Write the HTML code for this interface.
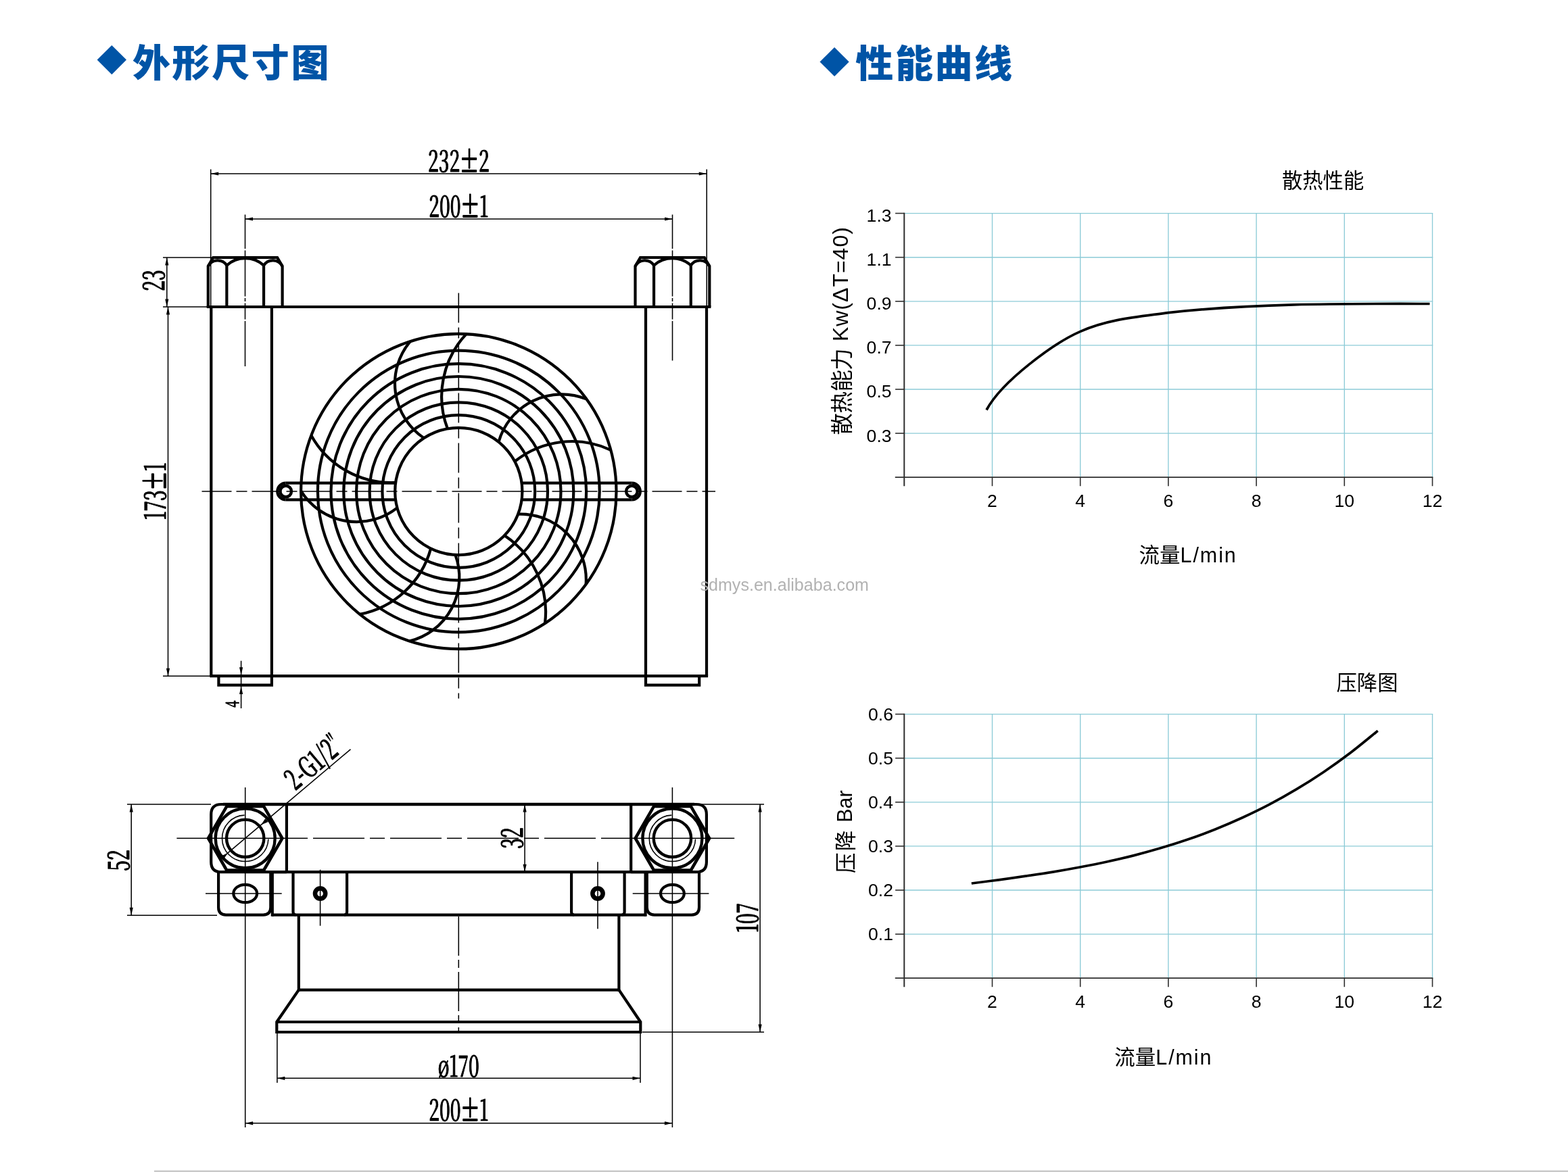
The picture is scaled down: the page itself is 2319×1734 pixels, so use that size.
<!DOCTYPE html>
<html lang="zh-CN"><head><meta charset="utf-8"><title>外形尺寸图 / 性能曲线</title>
<style>
html,body{margin:0;padding:0;background:#fff;}
body{width:2319px;height:1734px;overflow:hidden;position:relative;font-family:"Liberation Sans","Noto Sans CJK SC",sans-serif;}
svg{position:absolute;left:0;top:0;display:block;will-change:transform;}
.dim{font-family:"Noto Serif CJK SC","Liberation Serif",serif;font-weight:500;fill:#000;stroke:#000;stroke-width:1px;stroke-linejoin:round;vector-effect:non-scaling-stroke;}
.pm{stroke:#000;stroke-width:1.9px;vector-effect:non-scaling-stroke;}
.ax{font-family:"Liberation Sans","Noto Sans CJK SC",sans-serif;font-size:26.6px;fill:#000;}
.cj{font-family:"Liberation Sans","Noto Sans CJK SC",sans-serif;fill:#000;}
.ttl{font-family:"Liberation Sans","Noto Sans CJK SC",sans-serif;font-weight:900;fill:#0054a6;font-size:56px;letter-spacing:2.6px;}
.wm{font-family:"Liberation Sans","Noto Sans CJK SC",sans-serif;font-size:25px;fill:#b2b2b2;}
</style></head>
<body>
<svg width="2319" height="1734" viewBox="0 0 2319 1734">
<rect x="0" y="0" width="2319" height="1734" fill="#fff"/>
<rect x="228" y="1731.6" width="2091" height="2.4" fill="#c9c9c9"/>
<polygon points="143.6,88.6 165.3,67 187,88.6 165.3,110.2" fill="#0054a6"/>
<text class="ttl" x="196" y="112.6">外形尺寸图</text>
<polygon points="1212.5,91.5 1234.1,69.9 1255.7,91.5 1234.1,113.1" fill="#0054a6"/>
<text class="ttl" x="1265.3" y="113.5">性能曲线</text>
<g fill="none" stroke="#000" stroke-linecap="butt" stroke-linejoin="miter">
<line x1="305.7" y1="454" x2="1051.4" y2="454" stroke-width="4.2" />
<line x1="310.2" y1="1000.2" x2="1047.1" y2="1000.2" stroke-width="4.2" />
<line x1="312.3" y1="454" x2="312.3" y2="1000.2" stroke-width="4.2" />
<line x1="401.9" y1="454" x2="401.9" y2="1000.2" stroke-width="4.2" />
<line x1="955" y1="454" x2="955" y2="1000.2" stroke-width="4.2" />
<line x1="1045" y1="454" x2="1045" y2="1000.2" stroke-width="4.2" />
<path d="M323.4 1000.2 L323.4 1013.6 L401.9 1013.6 L401.9 1000.2" stroke-width="4.2" />
<path d="M955 1000.2 L955 1013.6 L1034.2 1013.6 L1034.2 1000.2" stroke-width="4.2" />
<path d="M307.8 454 L307.8 393.9 L315.3 381 L410.1 381 L417.6 393.9 L417.6 454" stroke-width="4.2" />
<line x1="335.35" y1="392.6" x2="335.35" y2="454" stroke-width="4.2" />
<line x1="390.05" y1="392.6" x2="390.05" y2="454" stroke-width="4.2" />
<path d="M307.8 393.9 A16 16 0 0 1 335.35 392.6" stroke-width="4.2" />
<path d="M335.35 392.6 A41 41 0 0 1 390.05 392.6" stroke-width="4.2" />
<path d="M390.05 392.6 A16 16 0 0 1 417.6 393.9" stroke-width="4.2" />
<path d="M939.5 454 L939.5 393.9 L947 381 L1041.8 381 L1049.3 393.9 L1049.3 454" stroke-width="4.2" />
<line x1="967.05" y1="392.6" x2="967.05" y2="454" stroke-width="4.2" />
<line x1="1021.75" y1="392.6" x2="1021.75" y2="454" stroke-width="4.2" />
<path d="M939.5 393.9 A16 16 0 0 1 967.05 392.6" stroke-width="4.2" />
<path d="M967.05 392.6 A41 41 0 0 1 1021.75 392.6" stroke-width="4.2" />
<path d="M1021.75 392.6 A16 16 0 0 1 1049.3 393.9" stroke-width="4.2" />
<circle cx="678.3" cy="727" r="94.1" stroke-width="4.2" />
<circle cx="678.3" cy="727" r="112.9" stroke-width="4.2" />
<circle cx="678.3" cy="727" r="131.7" stroke-width="4.2" />
<circle cx="678.3" cy="727" r="151.2" stroke-width="4.2" />
<circle cx="678.3" cy="727" r="170" stroke-width="4.2" />
<circle cx="678.3" cy="727" r="188.8" stroke-width="4.2" />
<circle cx="678.3" cy="727" r="208.4" stroke-width="4.2" />
<circle cx="678.3" cy="727" r="233.2" stroke-width="4.2" />
<path d="M661.89 634.34 A135.32 135.32 0 0 1 689.67 494.08" stroke-width="4.2" />
<path d="M761.35 682.76 A135.32 135.32 0 0 1 903.34 665.84" stroke-width="4.2" />
<path d="M746.04 792.32 A135.32 135.32 0 0 1 806.01 922.12" stroke-width="4.2" />
<path d="M637.11 811.61 A135.32 135.32 0 0 1 532.19 908.75" stroke-width="4.2" />
<path d="M585.11 713.97 A135.32 135.32 0 0 1 460.29 644.21" stroke-width="4.2" />
<path d="M626.99 648.12 A97.02 97.02 0 0 1 606.81 505.03" stroke-width="4.2" />
<path d="M737.47 653.83 A97.02 97.02 0 0 1 867.31 590.41" stroke-width="4.2" />
<path d="M766.17 760.66 A97.02 97.02 0 0 1 866.61 864.56" stroke-width="4.2" />
<path d="M673.44 820.97 A97.02 97.02 0 0 1 605.67 948.6" stroke-width="4.2" />
<path d="M587.42 751.42 A97.02 97.02 0 0 1 445.1 726.4" stroke-width="4.2" />
<line x1="584.2" y1="714.55" x2="422.7" y2="714.55" stroke-width="4.2" />
<line x1="584.2" y1="739.45" x2="422.7" y2="739.45" stroke-width="4.2" />
<path d="M422.7 714.55 A12.45 12.45 0 0 0 422.7 739.45" stroke-width="4.2" />
<circle cx="422.7" cy="727" r="8.3" stroke-width="4.4" />
<line x1="772.4" y1="714.55" x2="934.4" y2="714.55" stroke-width="4.2" />
<line x1="772.4" y1="739.45" x2="934.4" y2="739.45" stroke-width="4.2" />
<path d="M934.4 714.55 A12.45 12.45 0 0 1 934.4 739.45" stroke-width="4.2" />
<circle cx="934.4" cy="727" r="8.3" stroke-width="4.4" />
<line x1="678.3" y1="433.6" x2="678.3" y2="1033.5" stroke-width="1.55" stroke-dasharray="44 7 16 7"/>
<line x1="298.5" y1="727" x2="1058" y2="727" stroke-width="1.55" stroke-dasharray="44 7 16 7"/>
<line x1="362.5" y1="330" x2="362.5" y2="542" stroke-width="1.55" stroke-dasharray="38 2.5 68 2.5 5 2.5 24 2.5 70"/>
<line x1="994.5" y1="330" x2="994.5" y2="533.5" stroke-width="1.55" stroke-dasharray="38 2.5 68 2.5 5 2.5 24 2.5 70"/>
<line x1="311.7" y1="250.5" x2="311.7" y2="454" stroke-width="1.55" />
<line x1="1045.2" y1="250.5" x2="1045.2" y2="454" stroke-width="1.55" />
<line x1="311.7" y1="257" x2="1045.2" y2="257" stroke-width="1.55" />
<polygon points="311.7,257 323.2,254.4 323.2,259.6" fill="#000" stroke="none"/>
<polygon points="1045.2,257 1033.7,259.6 1033.7,254.4" fill="#000" stroke="none"/>
<line x1="362.5" y1="317.5" x2="362.5" y2="330" stroke-width="1.55" />
<line x1="994.5" y1="317.5" x2="994.5" y2="330" stroke-width="1.55" />
<line x1="362.5" y1="324" x2="994.5" y2="324" stroke-width="1.55" />
<polygon points="362.5,324 374,321.4 374,326.6" fill="#000" stroke="none"/>
<polygon points="994.5,324 983,326.6 983,321.4" fill="#000" stroke="none"/>
<line x1="241" y1="381" x2="316" y2="381" stroke-width="1.55" />
<line x1="241" y1="454" x2="306" y2="454" stroke-width="1.55" />
<line x1="241" y1="1000.2" x2="310" y2="1000.2" stroke-width="1.55" />
<line x1="246.8" y1="381" x2="246.8" y2="454" stroke-width="1.55" />
<polygon points="246.8,381 249.4,392.5 244.2,392.5" fill="#000" stroke="none"/>
<polygon points="246.8,454 244.2,442.5 249.4,442.5" fill="#000" stroke="none"/>
<line x1="248.5" y1="454" x2="248.5" y2="1000.2" stroke-width="1.55" />
<polygon points="248.5,454 251.1,465.5 245.9,465.5" fill="#000" stroke="none"/>
<polygon points="248.5,1000.2 245.9,988.7 251.1,988.7" fill="#000" stroke="none"/>
<line x1="356.6" y1="977.7" x2="356.6" y2="1048" stroke-width="1.55" />
<polygon points="356.6,998.7 354,987.2 359.2,987.2" fill="#000" stroke="none"/>
<polygon points="356.6,1015.6 359.2,1027.1 354,1027.1" fill="#000" stroke="none"/>
</g>
<text class="dim" transform="translate(678.3 254.2) rotate(0) scale(0.655 1)" font-size="42.3" text-anchor="middle">232<tspan class="pm">±</tspan>2</text>
<text class="dim" transform="translate(678.3 321.2) rotate(0) scale(0.655 1)" font-size="42.3" text-anchor="middle">200<tspan class="pm">±</tspan>1</text>
<text class="dim" transform="translate(242.6 415) rotate(-90) scale(0.655 1)" font-size="42.3" text-anchor="middle">23</text>
<text class="dim" transform="translate(245 727) rotate(-90) scale(0.655 1)" font-size="42.3" text-anchor="middle">173<tspan class="pm">±</tspan>1</text>
<text class="dim" transform="translate(353.4 1041.7) rotate(-90) scale(0.72 1)" font-size="25" text-anchor="middle">4</text>
<g fill="none" stroke="#000" stroke-linecap="butt" stroke-linejoin="miter">
<line x1="330" y1="1190" x2="1027" y2="1190" stroke-width="4.6" />
<line x1="399.5" y1="1290.2" x2="957" y2="1290.2" stroke-width="4.2" />
<line x1="402" y1="1353.6" x2="955.5" y2="1353.6" stroke-width="4.2" />
<path d="M423.9 1190 L327.2 1190 Q312.2 1190 312.2 1205 L312.2 1275.2 Q312.2 1290.2 327.2 1290.2 L423.9 1290.2" stroke-width="4.2" />
<line x1="423.9" y1="1190" x2="423.9" y2="1290.2" stroke-width="4.2" />
<path d="M417.4 1240.3 L390.05 1287.67 L335.35 1287.67 L308 1240.3 L335.35 1192.93 L390.05 1192.93 Z" stroke-width="4.6" />
<circle cx="362.7" cy="1240.3" r="44" stroke-width="4.4" />
<circle cx="362.7" cy="1240.3" r="27.7" stroke-width="4.4" />
<path d="M396.88 1241.49 A34.2 34.2 0 1 1 361.51 1206.12" stroke-width="1.55" />
<path d="M933.2 1190 L1029.9 1190 Q1044.9 1190 1044.9 1205 L1044.9 1275.2 Q1044.9 1290.2 1029.9 1290.2 L933.2 1290.2" stroke-width="4.2" />
<line x1="933.2" y1="1190" x2="933.2" y2="1290.2" stroke-width="4.2" />
<path d="M1049.1 1240.3 L1021.75 1287.67 L967.05 1287.67 L939.7 1240.3 L967.05 1192.93 L1021.75 1192.93 Z" stroke-width="4.6" />
<circle cx="994.4" cy="1240.3" r="44" stroke-width="4.4" />
<circle cx="994.4" cy="1240.3" r="27.7" stroke-width="4.4" />
<path d="M1028.58 1241.49 A34.2 34.2 0 1 1 993.21 1206.12" stroke-width="1.55" />
<path d="M323.1 1290.2 L323.1 1342.6 Q323.1 1353.6 334.1 1353.6 L389.3 1353.6 Q400.3 1353.6 400.3 1342.6 L400.3 1290.2" stroke-width="4.2" />
<ellipse cx="362.7" cy="1322.0" rx="17.4" ry="13.2" stroke-width="4.2"/>
<line x1="304" y1="1322" x2="416.7" y2="1322" stroke-width="1.55" />
<path d="M1034 1290.2 L1034 1342.6 Q1034 1353.6 1023 1353.6 L967.8 1353.6 Q956.8 1353.6 956.8 1342.6 L956.8 1290.2" stroke-width="4.2" />
<ellipse cx="994.4" cy="1322.0" rx="17.4" ry="13.2" stroke-width="4.2"/>
<line x1="935.7" y1="1322" x2="1048.4" y2="1322" stroke-width="1.55" />
<line x1="402.8" y1="1290.2" x2="402.8" y2="1355.7" stroke-width="4.2" />
<line x1="954.6" y1="1290.2" x2="954.6" y2="1355.7" stroke-width="4.2" />
<path d="M433.5 1290.2 L433.5 1349.6 Q433.5 1353.6 437.5 1353.6" stroke-width="4.2" />
<path d="M513.1 1290.2 L513.1 1349.6 Q513.1 1353.6 509.1 1353.6" stroke-width="4.2" />
<path d="M845.1 1290.2 L845.1 1349.6 Q845.1 1353.6 849.1 1353.6" stroke-width="4.2" />
<path d="M923.6 1290.2 L923.6 1349.6 Q923.6 1353.6 919.6 1353.6" stroke-width="4.2" />
<circle cx="473.6" cy="1322" r="7.6" stroke-width="6.6" />
<line x1="473.6" y1="1286.7" x2="473.6" y2="1369.7" stroke-width="1.55" />
<circle cx="884" cy="1322" r="7.6" stroke-width="6.6" />
<line x1="884" y1="1275.3" x2="884" y2="1374.3" stroke-width="1.55" />
<line x1="441.8" y1="1353.6" x2="441.8" y2="1466.7" stroke-width="4.2" />
<line x1="915.4" y1="1353.6" x2="915.4" y2="1466.7" stroke-width="4.2" />
<line x1="441.8" y1="1464.6" x2="915.4" y2="1464.6" stroke-width="4.2" />
<path d="M441.8 1464.6 L409.3 1512 L409.3 1527 L947.3 1527 L947.3 1512 L915.4 1464.6" stroke-width="4.2" />
<line x1="409.3" y1="1512" x2="947.3" y2="1512" stroke-width="4.2" />
<line x1="261.4" y1="1240.3" x2="455" y2="1240.3" stroke-width="1.55" />
<line x1="463" y1="1240.3" x2="881" y2="1240.3" stroke-width="1.55" stroke-dasharray="76 8 22 8"/>
<line x1="889" y1="1240.3" x2="1086.2" y2="1240.3" stroke-width="1.55" />
<line x1="678.3" y1="1356" x2="678.3" y2="1526" stroke-width="1.55" stroke-dasharray="58 6 12 6"/>
<line x1="362.7" y1="1165" x2="362.7" y2="1668" stroke-width="1.55" />
<line x1="994.4" y1="1165" x2="994.4" y2="1668" stroke-width="1.55" />
<line x1="326.4" y1="1270.8" x2="518.5" y2="1108.6" stroke-width="1.55" />
<polygon points="386,1220.62 392.28,1211.01 396.54,1216.05" fill="#000" stroke="none"/>
<polygon points="336.72,1262.23 330.45,1271.85 326.19,1266.81" fill="#000" stroke="none"/>
<line x1="188" y1="1190" x2="312" y2="1190" stroke-width="1.55" />
<line x1="188" y1="1354.2" x2="321" y2="1354.2" stroke-width="1.55" />
<line x1="194.2" y1="1190" x2="194.2" y2="1354.2" stroke-width="1.55" />
<polygon points="194.2,1190 196.8,1201.5 191.6,1201.5" fill="#000" stroke="none"/>
<polygon points="194.2,1354.2 191.6,1342.7 196.8,1342.7" fill="#000" stroke="none"/>
<line x1="776.1" y1="1190" x2="776.1" y2="1290.2" stroke-width="1.55" />
<polygon points="776.1,1190 778.7,1201.5 773.5,1201.5" fill="#000" stroke="none"/>
<polygon points="776.1,1290.2 773.5,1278.7 778.7,1278.7" fill="#000" stroke="none"/>
<line x1="1029" y1="1190" x2="1130" y2="1190" stroke-width="1.55" />
<line x1="950" y1="1527" x2="1130" y2="1527" stroke-width="1.55" />
<line x1="1124.1" y1="1190" x2="1124.1" y2="1527" stroke-width="1.55" />
<polygon points="1124.1,1190 1126.7,1201.5 1121.5,1201.5" fill="#000" stroke="none"/>
<polygon points="1124.1,1527 1121.5,1515.5 1126.7,1515.5" fill="#000" stroke="none"/>
<line x1="409.9" y1="1529" x2="409.9" y2="1602" stroke-width="1.55" />
<line x1="947" y1="1529" x2="947" y2="1602" stroke-width="1.55" />
<line x1="409.9" y1="1595.3" x2="947" y2="1595.3" stroke-width="1.55" />
<polygon points="409.9,1595.3 421.4,1592.7 421.4,1597.9" fill="#000" stroke="none"/>
<polygon points="947,1595.3 935.5,1597.9 935.5,1592.7" fill="#000" stroke="none"/>
<line x1="362.7" y1="1661.8" x2="994.4" y2="1661.8" stroke-width="1.55" />
<polygon points="362.7,1661.8 374.2,1659.2 374.2,1664.4" fill="#000" stroke="none"/>
<polygon points="994.4,1661.8 982.9,1664.4 982.9,1659.2" fill="#000" stroke="none"/>
</g>
<text class="dim" transform="translate(191 1273) rotate(-90) scale(0.655 1)" font-size="42.3" text-anchor="middle">52</text>
<text class="dim" transform="translate(772.5 1240) rotate(-90) scale(0.655 1)" font-size="42.3" text-anchor="middle">32</text>
<text class="dim" transform="translate(1120.5 1358) rotate(-90) scale(0.655 1)" font-size="42.3" text-anchor="middle">107</text>
<text class="dim" transform="translate(678.3 1592.6) rotate(0) scale(0.655 1)" font-size="42.3" text-anchor="middle">ø170</text>
<text class="dim" transform="translate(678.3 1658) rotate(0) scale(0.655 1)" font-size="42.3" text-anchor="middle">200<tspan class="pm">±</tspan>1</text>
<text class="dim" transform="translate(473.31 1139.57) rotate(-40.18) scale(0.66 1)" font-size="42.3" text-anchor="middle">2-G1/2<tspan font-size="34" dy="-7">″</tspan></text>
<g fill="none" stroke="#8ccbd7">
<line x1="1337.3" y1="315.6" x2="2119.2" y2="315.6" stroke-width="1.35" />
<line x1="1337.3" y1="380.7" x2="2119.2" y2="380.7" stroke-width="1.35" />
<line x1="1337.3" y1="445.8" x2="2119.2" y2="445.8" stroke-width="1.35" />
<line x1="1337.3" y1="510.9" x2="2119.2" y2="510.9" stroke-width="1.35" />
<line x1="1337.3" y1="576" x2="2119.2" y2="576" stroke-width="1.35" />
<line x1="1337.3" y1="641.1" x2="2119.2" y2="641.1" stroke-width="1.35" />
<line x1="1467.5" y1="315.6" x2="1467.5" y2="706.2" stroke-width="1.35" />
<line x1="1597.7" y1="315.6" x2="1597.7" y2="706.2" stroke-width="1.35" />
<line x1="1727.9" y1="315.6" x2="1727.9" y2="706.2" stroke-width="1.35" />
<line x1="1858.1" y1="315.6" x2="1858.1" y2="706.2" stroke-width="1.35" />
<line x1="1988.3" y1="315.6" x2="1988.3" y2="706.2" stroke-width="1.35" />
<line x1="2118.5" y1="315.6" x2="2118.5" y2="706.2" stroke-width="1.35" />
</g>
<g fill="none" stroke="#2e2e2e">
<line x1="1337.3" y1="314.8" x2="1337.3" y2="719.2" stroke-width="2.0" />
<line x1="1323.8" y1="706.2" x2="2119.3" y2="706.2" stroke-width="1.7" />
<line x1="1324.1" y1="315.6" x2="1337.3" y2="315.6" stroke-width="1.6" />
<line x1="1324.1" y1="380.7" x2="1337.3" y2="380.7" stroke-width="1.6" />
<line x1="1324.1" y1="445.8" x2="1337.3" y2="445.8" stroke-width="1.6" />
<line x1="1324.1" y1="510.9" x2="1337.3" y2="510.9" stroke-width="1.6" />
<line x1="1324.1" y1="576" x2="1337.3" y2="576" stroke-width="1.6" />
<line x1="1324.1" y1="641.1" x2="1337.3" y2="641.1" stroke-width="1.6" />
<line x1="1467.5" y1="706.2" x2="1467.5" y2="719.2" stroke-width="1.6" />
<line x1="1597.7" y1="706.2" x2="1597.7" y2="719.2" stroke-width="1.6" />
<line x1="1727.9" y1="706.2" x2="1727.9" y2="719.2" stroke-width="1.6" />
<line x1="1858.1" y1="706.2" x2="1858.1" y2="719.2" stroke-width="1.6" />
<line x1="1988.3" y1="706.2" x2="1988.3" y2="719.2" stroke-width="1.6" />
<line x1="2118.5" y1="706.2" x2="2118.5" y2="719.2" stroke-width="1.6" />
</g>
<text class="ax" x="1318.6" y="328" text-anchor="end">1.3</text>
<text class="ax" x="1318.6" y="393.1" text-anchor="end">1.1</text>
<text class="ax" x="1318.6" y="458.2" text-anchor="end">0.9</text>
<text class="ax" x="1318.6" y="523.3" text-anchor="end">0.7</text>
<text class="ax" x="1318.6" y="588.4" text-anchor="end">0.5</text>
<text class="ax" x="1318.6" y="653.5" text-anchor="end">0.3</text>
<text class="ax" x="1467.5" y="750.3" text-anchor="middle">2</text>
<text class="ax" x="1597.7" y="750.3" text-anchor="middle">4</text>
<text class="ax" x="1727.9" y="750.3" text-anchor="middle">6</text>
<text class="ax" x="1858.1" y="750.3" text-anchor="middle">8</text>
<text class="ax" x="1988.3" y="750.3" text-anchor="middle">10</text>
<text class="ax" x="2118.5" y="750.3" text-anchor="middle">12</text>
<text class="cj" x="1956.6" y="278" text-anchor="middle" font-size="30.3">散热性能</text>
<text class="cj" transform="translate(1253.9 643.6) rotate(-90)" font-size="32"><tspan font-size="32.4" letter-spacing="-0.4" dy="3">散热能力</tspan><tspan x="138.5" dy="-3" letter-spacing="1.0">Kw(ΔT=40)</tspan></text>
<text class="cj" x="1684.6" y="832.2" font-size="30.5">流量<tspan letter-spacing="1.9">L/min</tspan></text>
<path d="M1459.0 606.5 C1482.3 563.2 1560.2 506.8 1597.4 490.6 C1639.0 471.9 1684.0 468.7 1727.9 462.6 C1855.9 448.5 1985.6 449.3 2114.5 449.5" fill="none" stroke="#000" stroke-width="3.7"/>
<g fill="none" stroke="#8ccbd7">
<line x1="1337.3" y1="1056.6" x2="2119.2" y2="1056.6" stroke-width="1.35" />
<line x1="1337.3" y1="1121.7" x2="2119.2" y2="1121.7" stroke-width="1.35" />
<line x1="1337.3" y1="1186.8" x2="2119.2" y2="1186.8" stroke-width="1.35" />
<line x1="1337.3" y1="1251.9" x2="2119.2" y2="1251.9" stroke-width="1.35" />
<line x1="1337.3" y1="1317" x2="2119.2" y2="1317" stroke-width="1.35" />
<line x1="1337.3" y1="1382.1" x2="2119.2" y2="1382.1" stroke-width="1.35" />
<line x1="1467.5" y1="1056.6" x2="1467.5" y2="1447.2" stroke-width="1.35" />
<line x1="1597.7" y1="1056.6" x2="1597.7" y2="1447.2" stroke-width="1.35" />
<line x1="1727.9" y1="1056.6" x2="1727.9" y2="1447.2" stroke-width="1.35" />
<line x1="1858.1" y1="1056.6" x2="1858.1" y2="1447.2" stroke-width="1.35" />
<line x1="1988.3" y1="1056.6" x2="1988.3" y2="1447.2" stroke-width="1.35" />
<line x1="2118.5" y1="1056.6" x2="2118.5" y2="1447.2" stroke-width="1.35" />
</g>
<g fill="none" stroke="#2e2e2e">
<line x1="1337.3" y1="1055.8" x2="1337.3" y2="1460.2" stroke-width="2.0" />
<line x1="1323.8" y1="1447.2" x2="2119.3" y2="1447.2" stroke-width="1.7" />
<line x1="1324.1" y1="1056.6" x2="1337.3" y2="1056.6" stroke-width="1.6" />
<line x1="1324.1" y1="1121.7" x2="1337.3" y2="1121.7" stroke-width="1.6" />
<line x1="1324.1" y1="1186.8" x2="1337.3" y2="1186.8" stroke-width="1.6" />
<line x1="1324.1" y1="1251.9" x2="1337.3" y2="1251.9" stroke-width="1.6" />
<line x1="1324.1" y1="1317" x2="1337.3" y2="1317" stroke-width="1.6" />
<line x1="1324.1" y1="1382.1" x2="1337.3" y2="1382.1" stroke-width="1.6" />
<line x1="1467.5" y1="1447.2" x2="1467.5" y2="1460.2" stroke-width="1.6" />
<line x1="1597.7" y1="1447.2" x2="1597.7" y2="1460.2" stroke-width="1.6" />
<line x1="1727.9" y1="1447.2" x2="1727.9" y2="1460.2" stroke-width="1.6" />
<line x1="1858.1" y1="1447.2" x2="1858.1" y2="1460.2" stroke-width="1.6" />
<line x1="1988.3" y1="1447.2" x2="1988.3" y2="1460.2" stroke-width="1.6" />
<line x1="2118.5" y1="1447.2" x2="2118.5" y2="1460.2" stroke-width="1.6" />
</g>
<text class="ax" x="1321" y="1065.9" text-anchor="end">0.6</text>
<text class="ax" x="1321" y="1131" text-anchor="end">0.5</text>
<text class="ax" x="1321" y="1196.1" text-anchor="end">0.4</text>
<text class="ax" x="1321" y="1261.2" text-anchor="end">0.3</text>
<text class="ax" x="1321" y="1326.3" text-anchor="end">0.2</text>
<text class="ax" x="1321" y="1391.4" text-anchor="end">0.1</text>
<text class="ax" x="1467.5" y="1491.3" text-anchor="middle">2</text>
<text class="ax" x="1597.7" y="1491.3" text-anchor="middle">4</text>
<text class="ax" x="1727.9" y="1491.3" text-anchor="middle">6</text>
<text class="ax" x="1858.1" y="1491.3" text-anchor="middle">8</text>
<text class="ax" x="1988.3" y="1491.3" text-anchor="middle">10</text>
<text class="ax" x="2118.5" y="1491.3" text-anchor="middle">12</text>
<text class="cj" x="2022" y="1020.5" text-anchor="middle" font-size="30.3">压降图</text>
<text class="cj" transform="translate(1260.3 1292) rotate(-90) scale(1 1.04)" font-size="30.5"><tspan letter-spacing="2.6" dy="2">压降</tspan><tspan x="75.2" dy="-2">Bar</tspan></text>
<text class="cj" x="1648.3" y="1575" font-size="30.5">流量<tspan letter-spacing="1.9">L/min</tspan></text>
<path d="M1436.8 1307 C1443.48 1306.13 1463.55 1303.6 1476.9 1301.8 C1490.25 1300 1503.55 1298.15 1516.9 1296.2 C1530.25 1294.25 1543.65 1292.3 1557 1290.1 C1570.35 1287.9 1583.65 1285.52 1597 1283 C1610.35 1280.48 1623.73 1277.9 1637.1 1275 C1650.47 1272.1 1663.85 1269 1677.2 1265.6 C1690.55 1262.2 1703.85 1258.57 1717.2 1254.6 C1730.55 1250.63 1743.95 1246.4 1757.3 1241.8 C1770.65 1237.2 1783.95 1232.33 1797.3 1227 C1810.65 1221.67 1824.03 1215.93 1837.4 1209.8 C1850.77 1203.67 1864.15 1197.22 1877.5 1190.2 C1890.85 1183.18 1904.15 1175.7 1917.5 1167.7 C1930.85 1159.7 1944.25 1151.23 1957.6 1142.2 C1970.95 1133.17 1984.25 1123.67 1997.6 1113.5 C2010.95 1103.33 2031.02 1086.58 2037.7 1081.2" fill="none" stroke="#000" stroke-width="3.7"/>
<text class="wm" x="1035.5" y="874" textLength="249.5" lengthAdjust="spacingAndGlyphs">sdmys.en.alibaba.com</text>
</svg>
</body></html>
